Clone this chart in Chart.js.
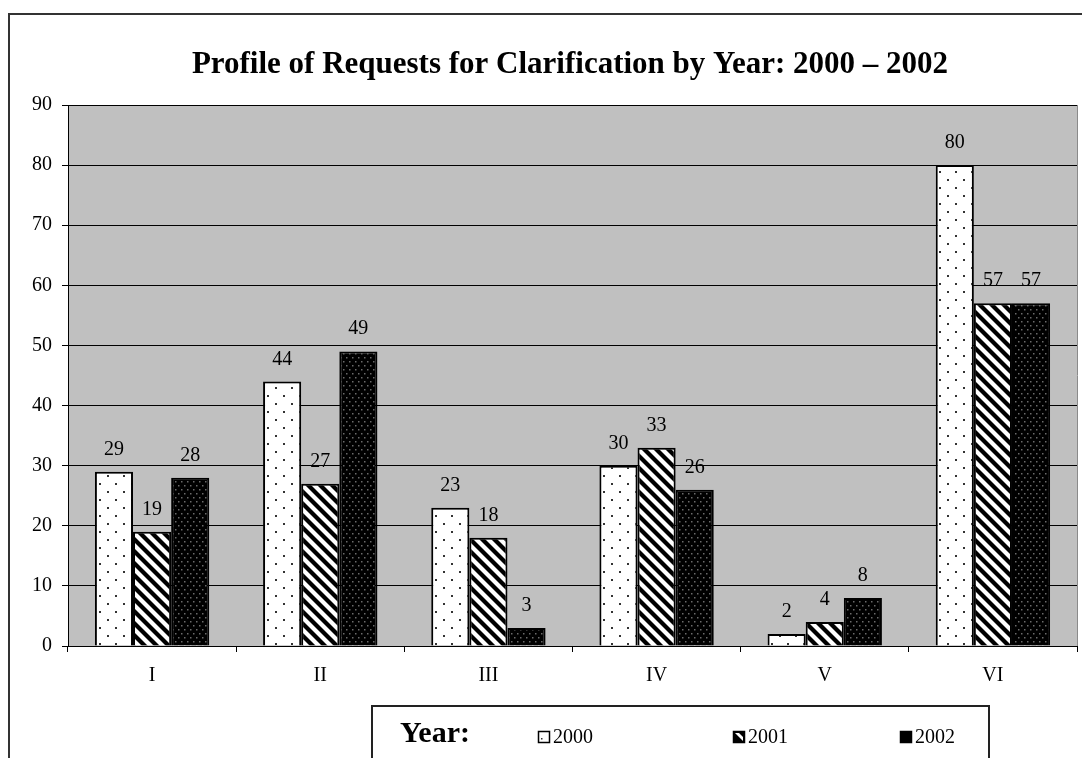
<!DOCTYPE html>
<html>
<head>
<meta charset="utf-8">
<title>Profile of Requests for Clarification by Year: 2000 – 2002</title>
<script src="https://cdn.jsdelivr.net/npm/chart.js@4.4.1/dist/chart.umd.min.js"></script>
<style>
  html, body { margin: 0; padding: 0; background: #fff; overflow: hidden; }
  #wrap { position: relative; width: 1082px; height: 758px; }
</style>
</head>
<body>
<div id="wrap"><canvas id="chart" width="1082" height="758"></canvas></div>
<script>
// Requests for clarification, by category and year
const categories = ['I', 'II', 'III', 'IV', 'V', 'VI'];
const years = ['2000', '2001', '2002'];
const values2000 = [29, 44, 23, 30, 2, 80];
const values2001 = [19, 27, 18, 33, 4, 57];
const values2002 = [28, 49, 3, 26, 8, 57];
const yTicks = [0, 10, 20, 30, 40, 50, 60, 70, 80, 90];
const chartTitle = 'Profile of Requests for Clarification by Year: 2000 \u2013 2002';
const legendHeading = 'Year:';

const SERIF = '"Liberation Serif", "Times New Roman", "DejaVu Serif", serif';

// Fill patterns for the three series
function makeTile(w, h, paint) {
  const c = document.createElement('canvas');
  c.width = w; c.height = h;
  const g = c.getContext('2d');
  paint(g, w, h);
  return document.getElementById('chart').getContext('2d').createPattern(c, 'repeat');
}
const dotsPattern = makeTile(16, 16, (g, w, h) => {
  g.fillStyle = '#fff'; g.fillRect(0, 0, w, h);
  g.fillStyle = '#333';
  g.fillRect(3, 3, 2, 2);
  g.fillRect(11, 11, 2, 2);
});
const stripesPattern = makeTile(12, 12, (g, w, h) => {
  g.fillStyle = '#fff'; g.fillRect(0, 0, w, h);
  g.fillStyle = '#000';
  // "\" direction band, half of the period
  for (const off of [-12, 0, 12]) {
    g.beginPath();
    g.moveTo(off, 0);
    g.lineTo(off + 6, 0);
    g.lineTo(off + 6 + 12, 12);
    g.lineTo(off + 12, 12);
    g.closePath();
    g.fill();
  }
});
const finePattern = makeTile(6, 8, (g, w, h) => {
  g.fillStyle = '#000'; g.fillRect(0, 0, w, h);
  g.fillStyle = '#6a6a6a';
  g.fillRect(1, 1, 1.5, 1.5);
  g.fillRect(4, 5, 1.5, 1.5);
});

const seriesValues = [values2000, values2001, values2002];
const seriesFills = [dotsPattern, stripesPattern, finePattern];

// Frame, plot background, title, value labels and legend box
const decorPlugin = {
  id: 'decor',
  beforeDraw(chart) {
    const { ctx, chartArea: a } = chart;
    ctx.save();
    ctx.fillStyle = '#fff';
    ctx.fillRect(0, 0, chart.width, chart.height);
    ctx.strokeStyle = '#333';
    ctx.lineWidth = 2;
    ctx.strokeRect(9, 14, chart.width + 20, chart.height + 20);
    ctx.fillStyle = '#c0c0c0';
    ctx.fillRect(a.left, a.top, a.right - a.left, a.bottom - a.top);
    ctx.strokeStyle = '#8a8a8a';
    ctx.lineWidth = 1;
    ctx.beginPath();
    ctx.moveTo(a.right + 0.5, a.top);
    ctx.lineTo(a.right + 0.5, a.bottom);
    ctx.stroke();
    ctx.restore();
  },
  afterDatasetsDraw(chart) {
    const { ctx } = chart;
    ctx.save();
    ctx.fillStyle = '#000';
    ctx.font = '20px ' + SERIF;
    ctx.textAlign = 'center';
    ctx.textBaseline = 'alphabetic';
    chart.data.datasets.forEach((ds, i) => {
      chart.getDatasetMeta(i).data.forEach((bar, j) => {
        ctx.fillText(String(ds.data[j]), bar.x, bar.y - 17);
      });
    });
    ctx.restore();
  },
  afterDraw(chart) {
    const { ctx, chartArea: a } = chart;
    ctx.save();
    // title
    ctx.fillStyle = '#000';
    ctx.font = 'bold 31px ' + SERIF;
    ctx.textAlign = 'center';
    ctx.textBaseline = 'alphabetic';
    ctx.fillText(chartTitle, 570, 73);

    // legend box
    ctx.strokeStyle = '#222';
    ctx.lineWidth = 2;
    ctx.fillStyle = '#fff';
    ctx.fillRect(372, 706, 617, 80);
    ctx.strokeRect(372, 706, 617, 80);
    ctx.fillStyle = '#000';
    ctx.textAlign = 'left';
    ctx.font = 'bold 30px ' + SERIF;
    ctx.fillText(legendHeading, 400, 742);

    const itemX = [538, 733, 900];
    ctx.font = '20px ' + SERIF;
    years.forEach((yr, i) => {
      const x = itemX[i], y = 731, s = 12;
      ctx.lineWidth = 1.5;
      ctx.strokeStyle = '#000';
      if (i === 0) {
        ctx.fillStyle = '#fff';
        ctx.fillRect(x, y, s, s);
        ctx.fillStyle = '#333';
        ctx.fillRect(x + 3, y + 7, 1.5, 1.5);
      } else if (i === 1) {
        ctx.fillStyle = '#000';
        ctx.fillRect(x, y, s, s);
        ctx.fillStyle = '#fff';
        ctx.beginPath();
        ctx.moveTo(x + 2, y + 2);
        ctx.lineTo(x + 6, y + 2);
        ctx.lineTo(x + s - 2, y + s - 6);
        ctx.lineTo(x + s - 2, y + s - 2);
        ctx.closePath();
        ctx.fill();
      } else {
        ctx.fillStyle = '#000';
        ctx.fillRect(x, y, s, s);
      }
      ctx.strokeRect(x + 0.5, y + 0.5, s - 1, s - 1);
      ctx.fillStyle = '#000';
      ctx.textBaseline = 'middle';
      ctx.fillText(yr, x + s + 3, y + s / 2 + 1);
    });
    ctx.restore();
  }
};

new Chart(document.getElementById('chart'), {
  type: 'bar',
  data: {
    labels: categories,
    datasets: years.map((yr, i) => ({
      label: yr,
      data: seriesValues[i],
      backgroundColor: seriesFills[i],
      borderColor: '#000',
      borderWidth: 2,
      borderSkipped: 'start',
      categoryPercentage: 0.68,
      barPercentage: 1.0
    }))
  },
  options: {
    responsive: false,
    animation: false,
    devicePixelRatio: 1,
    layout: { padding: { left: 0, right: 5, top: 105, bottom: 0 } },
    plugins: {
      legend: { display: false },
      title: { display: false },
      tooltip: { enabled: false }
    },
    scales: {
      x: {
        offset: true,
        grid: {
          offset: true,
          drawOnChartArea: false,
          drawTicks: true,
          tickLength: 6,
          color: '#000',
          lineWidth: 1
        },
        border: { display: true, color: '#000', width: 1 },
        ticks: {
          color: '#000',
          font: { family: SERIF, size: 20 },
          padding: 12,
          maxRotation: 0
        },
        afterFit(scale) { scale.height = 112; }
      },
      y: {
        min: 0,
        max: 90,
        afterBuildTicks(scale) { scale.ticks = yTicks.map(v => ({ value: v })); },
        grid: {
          color: '#000',
          lineWidth: 1,
          drawTicks: true,
          tickLength: 6
        },
        border: { display: true, color: '#000', width: 1 },
        ticks: {
          color: '#000',
          font: { family: SERIF, size: 20 },
          padding: 10
        },
        afterFit(scale) { scale.width = 68; }
      }
    }
  },
  plugins: [decorPlugin]
});
</script>
</body>
</html>
